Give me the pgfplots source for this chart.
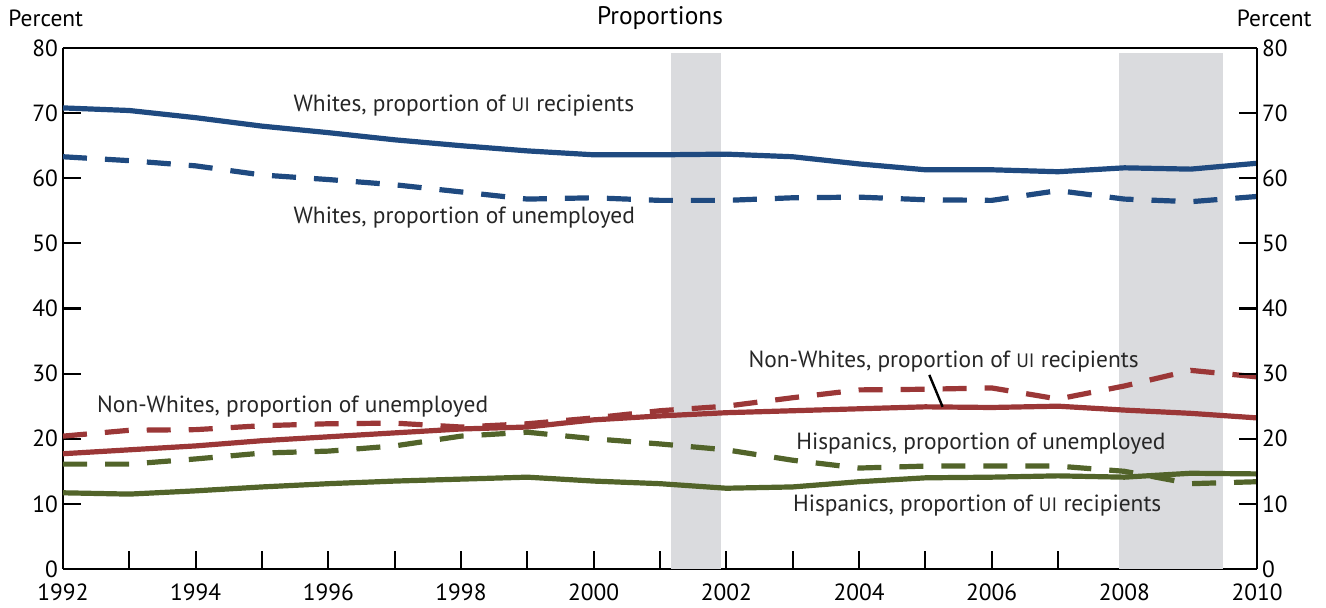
\documentclass[border=0pt]{standalone}
\usepackage{pgfplots}
\pgfplotsset{compat=1.18}
\usepackage{fontspec}
\setmainfont{PT Sans}
\definecolor{cblue}{RGB}{31,74,128}
\definecolor{cred}{RGB}{155,55,55}
\definecolor{cgreen}{RGB}{82,100,42}
\definecolor{cgray}{RGB}{218,219,222}
\newcommand{\UI}{{\fontsize{9.7}{10}\selectfont UI}}
\pgfplotsset{
  base/.style={
    scale only axis, width=597pt, height=260.5pt,
    xmin=1992, xmax=2010, ymin=0, ymax=80,
    ytick={0,10,...,80},
    tick align=inside,
    major tick length=9pt,
    tick style={black, line width=1.1pt},
    ticklabel style={font=\fontsize{11.7}{12}\selectfont},
    /pgf/number format/assume math mode=true,
    axis line style={black, line width=1.2pt},
  }
}
\begin{document}
\begin{tikzpicture}
\useasboundingbox (-31.5pt,-19.5pt) rectangle (631.5pt,284.5pt);
\begin{axis}[base,
  at={(0,0)}, anchor=south west,
  axis x line*=bottom, axis y line*=left,
  xtick={1992,1994,...,2010},
  minor xtick={1993,1995,...,2009},
  minor tick length=9pt,
  minor tick style={black, line width=1.1pt},
  xticklabel style={/pgf/number format/1000 sep={}, yshift=-4pt},
  yticklabel style={xshift=1pt},
  clip=false,
]
\fill[cgray] (axis cs:2001.17,0) rectangle (axis cs:2001.92,79.3);
\fill[cgray] (axis cs:2007.92,0) rectangle (axis cs:2009.48,79.3);
\draw[black, line width=0.6pt] (rel axis cs:0,1) -- (rel axis cs:1,1);

\addplot[cblue, line width=2.6pt] coordinates {
(1992,70.8)(1993,70.4)(1994,69.3)(1995,68.0)(1996,67.0)(1997,65.9)(1998,65.0)(1999,64.2)(2000,63.6)(2001,63.6)(2002,63.7)(2003,63.3)(2004,62.2)(2005,61.3)(2006,61.3)(2007,61.0)(2008,61.6)(2009,61.4)(2010,62.3)};
\addplot[cblue, line width=2.6pt, dash pattern=on 12pt off 9pt] coordinates {
(1992,63.3)(1993,62.7)(1994,61.9)(1995,60.5)(1996,59.8)(1997,59.0)(1998,57.9)(1999,56.8)(2000,57.0)(2001,56.6)(2002,56.6)(2003,57.0)(2004,57.1)(2005,56.7)(2006,56.6)(2007,58.1)(2008,56.8)(2009,56.4)(2010,57.2)};
\addplot[cred, line width=2.6pt] coordinates {
(1992,17.7)(1993,18.3)(1994,18.9)(1995,19.7)(1996,20.3)(1997,20.9)(1998,21.5)(1999,21.8)(2000,22.9)(2001,23.5)(2002,24.0)(2003,24.3)(2004,24.6)(2005,24.9)(2006,24.8)(2007,25.0)(2008,24.4)(2009,23.9)(2010,23.2)};
\addplot[cred, line width=2.6pt, dash pattern=on 12pt off 9pt] coordinates {
(1992,20.4)(1993,21.3)(1994,21.4)(1995,22.0)(1996,22.3)(1997,22.4)(1998,21.8)(1999,22.3)(2000,23.2)(2001,24.3)(2002,25.0)(2003,26.3)(2004,27.5)(2005,27.6)(2006,27.8)(2007,26.1)(2008,28.1)(2009,30.5)(2010,29.5)};
\addplot[cgreen, line width=2.6pt, dash pattern=on 12pt off 9pt] coordinates {
(1992,16.1)(1993,16.1)(1994,16.9)(1995,17.8)(1996,18.1)(1997,18.9)(1998,20.4)(1999,21.0)(2000,20.0)(2001,19.2)(2002,18.3)(2003,16.7)(2004,15.5)(2005,15.8)(2006,15.8)(2007,15.8)(2008,15.0)(2009,13.1)(2010,13.4)};
\addplot[cgreen, line width=2.6pt] coordinates {
(1992,11.7)(1993,11.5)(1994,12.0)(1995,12.6)(1996,13.1)(1997,13.5)(1998,13.8)(1999,14.1)(2000,13.5)(2001,13.1)(2002,12.4)(2003,12.6)(2004,13.4)(2005,14.0)(2006,14.1)(2007,14.3)(2008,14.1)(2009,14.7)(2010,14.6)};

\draw[black, line width=1.2pt] (axis cs:2005.06,29.8) -- (axis cs:2005.26,24.9);

\begin{scope}[every node/.style={font=\fontsize{11.7}{13}\selectfont, inner sep=0pt, anchor=west, text=black!85}]
\node at (axis cs:1995.47,71.1) {Whites, proportion of \UI\ recipients};
\node at (axis cs:1995.47,53.9) {Whites, proportion of unemployed};
\node at (axis cs:1992.51,24.9) {Non-Whites, proportion of unemployed};
\node at (axis cs:2002.33,31.8) {Non-Whites, proportion of \UI\ recipients};
\node at (axis cs:2003.05,19.2) {Hispanics, proportion of unemployed};
\node at (axis cs:2003.0,9.7) {Hispanics, proportion of \UI\ recipients};
\end{scope}
\node[font=\fontsize{12.7}{13}\selectfont, anchor=center] at ([yshift=15pt]rel axis cs:0.5,1) {Proportions};
\node[font=\fontsize{11.7}{13}\selectfont, anchor=west, inner sep=0pt] at ([xshift=-27.5pt,yshift=15pt]rel axis cs:0,1) {Percent};
\node[font=\fontsize{11.7}{13}\selectfont, anchor=east, inner sep=0pt] at ([xshift=27.5pt,yshift=15pt]rel axis cs:1,1) {Percent};
\end{axis}
\begin{axis}[base,
  at={(0,0)}, anchor=south west,
  axis x line=none, axis y line*=right,
  yticklabel style={xshift=-1pt},
]
\end{axis}
\end{tikzpicture}
\end{document}
